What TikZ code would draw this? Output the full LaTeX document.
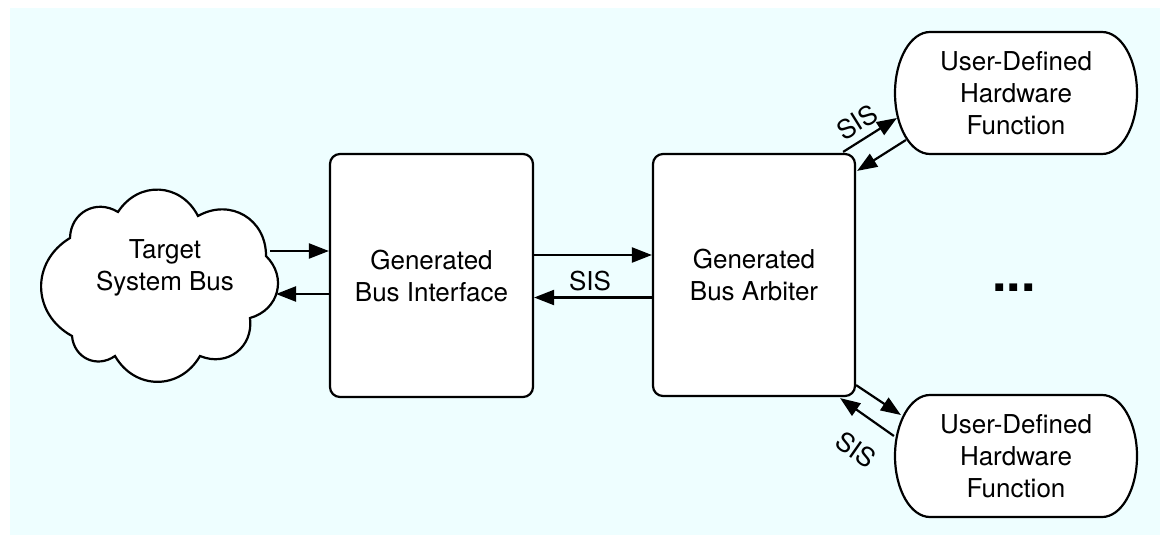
\documentclass[tikz,border=0pt]{standalone}
\usepackage{fontspec}
\setmainfont{TeX Gyre Heros}
\usetikzlibrary{arrows.meta,calc}
\definecolor{bgcyan}{RGB}{238,254,255}
\begin{document}
\begin{tikzpicture}[x=0.5pt,y=-0.5pt,
  line width=1.1pt,
  every node/.style={font=\fontsize{13}{16}\selectfont, align=center},
  blk/.style={draw, fill=white, rounded corners=5pt, inner sep=0pt},
  hwbox/.style={minimum width=121pt, minimum height=61pt, inner sep=0pt},
  hwline/.style={draw, fill=white},
  cloudline/.style={draw, fill=white},
  arr/.style={-{Triangle[length=10pt,width=7.5pt]}},
  bump/.style={bend left=60, looseness=1.2}
]
\useasboundingbox (0,0) rectangle (1160,535);
\fill[bgcyan] (10,8) rectangle (1160,535);

% cloud outline
\path[cloudline] (70,238) to[bump] (118,212) to[bump] (198,216)
  to[bump] (266,256) to[bump] (250,318) to[bump] (200,356)
  to[bump] (115,356) to[bump] (72,336) to[bump] (70,238) -- cycle;
\node (cloud) at (165,268) {Target\\System Bus};

% generated blocks
\node[blk, minimum width=101.5pt, minimum height=121.5pt] (bi) at (431.5,275.5) {Generated\\Bus Interface};
\node[blk, minimum width=101pt, minimum height=121pt] (arb) at (754,275) {Generated\\Bus Arbiter};

% user-defined hardware functions (terminal shape)
\foreach \cy in {93,456} {
  \path[hwline] (930,\cy-61) -- (1102,\cy-61)
    .. controls (1121.3,\cy-61) and (1137,\cy-33.7) .. (1137,\cy)
    .. controls (1137,\cy+33.7) and (1121.3,\cy+61) .. (1102,\cy+61)
    -- (930,\cy+61)
    .. controls (910.7,\cy+61) and (895,\cy+33.7) .. (895,\cy)
    .. controls (895,\cy-33.7) and (910.7,\cy-61) .. (930,\cy-61) -- cycle;
}
\node[hwbox] (hw1) at (1016,93) {User-Defined\\Hardware\\Function};
\node[hwbox] (hw2) at (1016,456) {User-Defined\\Hardware\\Function};

\node[font=\fontsize{26}{26}\selectfont\bfseries] (dots) at (1014,288) {...};

% cloud <-> bus interface
\coordinate (clout) at (270,251);
\coordinate (clin) at (276,294);
\draw[arr] (clout) -- (clout -| bi.west);
\draw[arr] (clin -| bi.west) -- (clin);

% bus interface <-> arbiter
\coordinate (bitop) at ($(bi.east)+(0,-20.5)$);
\coordinate (arbbot) at ($(arb.west)+(0,22.5)$);
\draw[arr] (bitop) -- (bitop -| arb.west);
\draw[arr] (arbbot) -- (arbbot -| bi.east);
\node (sis1) at (590,281) {SIS};

% arbiter <-> hardware functions
\draw[arr] ($(arb.north east)+(-13,-1)$) -- ($(hw1.west)+(3,25)$);
\draw[arr] ($(hw1.west)+(12,47)$) -- ($(arb.north east)+(1,18)$);
\node[rotate=32] (sis2) at (857,122) {SIS};

\draw[arr] ($(arb.south east)+(0,-12)$) -- ($(hw2.west)+(7,-41)$);
\draw[arr] ($(hw2.west)+(0,-20)$) -- ($(arb.south east)+(-16,1)$);
\node[rotate=-35] (sis3) at (856,450) {SIS};
\end{tikzpicture}
\end{document}
